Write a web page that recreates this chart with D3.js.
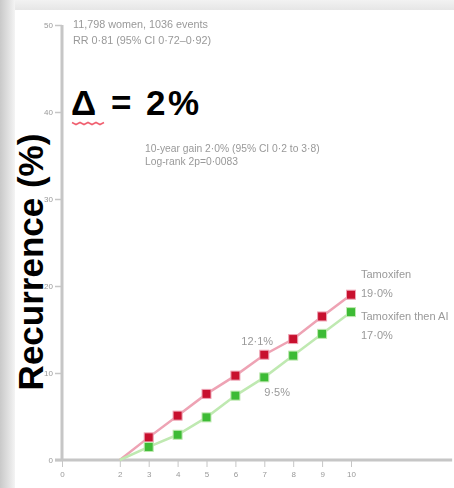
<!DOCTYPE html>
<html><head><meta charset="utf-8">
<script src="https://cdn.jsdelivr.net/npm/d3@7"></script>
<style>
html,body{margin:0;padding:0;background:#fff;}
svg{display:block;}
</style></head>
<body>
<svg id="chart" width="454" height="488"></svg>
<script>
// ---- data ----
const years = [2, 3, 4, 5, 6, 7, 8, 9, 10];
const tamoxifen = [0, 2.6, 5.1, 7.6, 9.7, 12.1, 13.9, 16.5, 19.0];
const tamThenAI = [0, 1.5, 2.9, 4.9, 7.4, 9.5, 12.0, 14.5, 17.0];
const xTicks = [0, 2, 3, 4, 5, 6, 7, 8, 9, 10];
const yTicks = [0, 10, 20, 30, 40, 50];
const seriesNames = ["Tamoxifen", "Tamoxifen then AI"];
const endLabels = ["19·0%", "17·0%"];
const midLabels = ["12·1%", "9·5%"];
const headerLines = ["11,798 women, 1036 events", "RR 0·81 (95% CI 0·72–0·92)"];
const gainLines = ["10-year gain 2·0% (95% CI 0·2 to 3·8)", "Log-rank 2p=0·0083"];
const deltaText = "Δ = 2%";
const yTitle = "Recurrence (%)";

const svg = d3.select("#chart");
const defs = svg.append("defs");
const lg = defs.append("linearGradient").attr("id","leftg").attr("x1","0").attr("x2","1");
lg.append("stop").attr("offset","0").attr("stop-color","#c9c9c9");
lg.append("stop").attr("offset","0.6").attr("stop-color","#e2e2e2");
lg.append("stop").attr("offset","1").attr("stop-color","#f4f4f4");
const tg = defs.append("linearGradient").attr("id","topg").attr("x1","0").attr("x2","0").attr("y1","0").attr("y2","1");
tg.append("stop").attr("offset","0").attr("stop-color","#f2f2f2");
tg.append("stop").attr("offset","1").attr("stop-color","#e6e6e6");
defs.append("filter").attr("id","soft").append("feGaussianBlur").attr("stdDeviation",0.5);

// background shading of photographed slide
svg.append("rect").attr("x",0).attr("y",0).attr("width",454).attr("height",10).attr("fill","url(#topg)");
svg.append("rect").attr("x",0).attr("y",0).attr("width",15).attr("height",488).attr("fill","url(#leftg)");

const x = d3.scaleLinear().domain([0, 10]).range([62, 351]);
const y = d3.scaleLinear().domain([0, 50]).range([460, 25]);

const axisCol = "#c6c6c6";
const grey = "#999";
const font = "Liberation Sans, Arial, sans-serif";

// y axis
const yAxis = svg.append("g").attr("transform", "translate(62,0)")
  .call(d3.axisLeft(y).tickValues(yTicks).tickSize(7).tickPadding(2).tickFormat(d3.format("d")));
yAxis.select(".domain").remove();
yAxis.selectAll(".tick line").attr("stroke", axisCol).attr("stroke-width", 1.5);
yAxis.selectAll(".tick text").attr("fill", grey).attr("font-family",font)
  .attr("font-size", 8).attr("filter","url(#soft)");
svg.append("line").attr("x1",62).attr("x2",62).attr("y1",y(50)).attr("y2",y(0))
  .attr("stroke",axisCol).attr("stroke-width",3);

// x axis
const xAxis = svg.append("g").attr("transform", "translate(0,460)")
  .call(d3.axisBottom(x).tickValues(xTicks).tickSize(7).tickPadding(4).tickFormat(d3.format("d")));
xAxis.select(".domain").remove();
xAxis.selectAll(".tick line").attr("stroke", axisCol).attr("stroke-width", 1);
xAxis.selectAll(".tick text").attr("fill", grey).attr("font-family",font)
  .attr("font-size", 8).attr("filter","url(#soft)");
svg.append("line").attr("x1",55).attr("x2",x(13.5)).attr("y1",460).attr("y2",460)
  .attr("stroke",axisCol).attr("stroke-width",3);

// series
const series = [
  {name: seriesNames[0], vals: tamoxifen, line: "#eea3b4", mark: "#c8102e"},
  {name: seriesNames[1], vals: tamThenAI, line: "#bfe9b1", mark: "#3dbb35"}
];
const lineGen = d3.line().x((d,i)=>x(years[i])).y(d=>y(d));
series.forEach(s => {
  svg.append("path").datum(s.vals).attr("d", lineGen).attr("fill","none")
    .attr("stroke", s.line).attr("stroke-width", 2.5);
});
series.forEach(s => {
  svg.append("g").selectAll("rect").data(s.vals.slice(1)).join("rect")
    .attr("x",(d,i)=>x(years[i+1])-4.5).attr("y",d=>y(d)-4.5)
    .attr("width",9).attr("height",9).attr("fill",s.mark)
    .attr("stroke", s.line).attr("stroke-width",1);
});

function small(tx, xx, yy, size, anchor) {
  return svg.append("text").attr("x",xx).attr("y",yy).attr("text-anchor",anchor||"start")
    .attr("font-family",font).attr("font-size",size).attr("fill",grey)
    .attr("filter","url(#soft)").text(tx);
}

// end labels
small(seriesNames[0], x(10)+10, y(tamoxifen[8]) - 17, 11);
small(endLabels[0], x(10)+10, y(tamoxifen[8]) + 2, 11);
small(seriesNames[1], x(10)+10, y(tamThenAI[8]) + 8, 11);
small(endLabels[1], x(10)+10, y(tamThenAI[8]) + 27, 11);
// mid labels at year 7
small(midLabels[0], x(7)-23, y(tamoxifen[5]) - 10, 11);
small(midLabels[1], x(7)+0, y(tamThenAI[5]) + 19, 11);

// header lines
headerLines.forEach((t,i)=> small(t, 73, 28 + i*16, 10.8));
gainLines.forEach((t,i)=> small(t, 145, 152 + i*13, 10.3));

// delta
svg.append("text").attr("x",71).attr("y",115).attr("font-family",font)
  .attr("font-weight","bold").attr("font-size",35).attr("letter-spacing",2.5)
  .attr("fill","#000").text(deltaText);
// red spell-check squiggle under the delta
const sq = d3.range(0, 9).map(i => [72 + i*4, 123 + (i%2? 1.5 : -0.5)]);
svg.append("path").attr("d", d3.line()(sq)).attr("fill","none")
  .attr("stroke","#f06070").attr("stroke-width",1.6);

// y title
svg.append("text").attr("transform","translate(43,262) rotate(-90)").attr("text-anchor","middle")
  .attr("font-family",font).attr("font-weight","bold").attr("font-size",35).attr("fill","#000")
  .text(yTitle);
</script>
</body></html>
